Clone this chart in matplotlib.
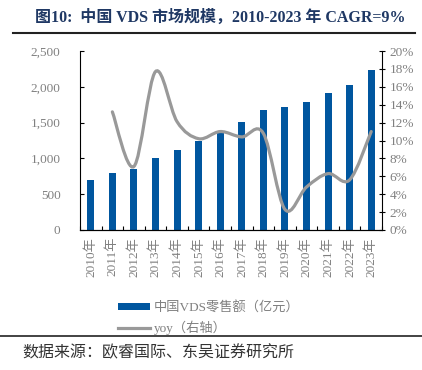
import numpy as np
import matplotlib
matplotlib.use("Agg")
import matplotlib.pyplot as plt
from matplotlib.path import Path
from matplotlib.patches import PathPatch, Patch
from matplotlib.lines import Line2D
from matplotlib.ticker import FuncFormatter, MultipleLocator

years = ['2010年', '2011年', '2012年', '2013年', '2014年', '2015年', '2016年',
         '2017年', '2018年', '2019年', '2020年', '2021年', '2022年', '2023年']
sales = [700, 790, 848, 1001, 1122, 1239, 1350, 1513, 1672, 1714, 1793, 1909, 2021, 2235]
# yoy from 2011 on, in %
yoy = [13.2, 7.1, 17.7, 12.1, 10.2, 11.0, 10.4, 10.8, 2.3, 4.8, 6.3, 5.6, 11.0]

serif = ['Liberation Serif', 'Noto Sans CJK SC']
plt.rcParams['font.family'] = serif
grey_txt = '#808080'
blue = '#00569F'
grey_line = '#999999'

fig = plt.figure(figsize=(4.22, 3.70), dpi=100)
ax = fig.add_axes([80/422, 1-230/370, 302/422, 179/370])
ax2 = ax.twinx()

x = np.arange(len(years))
ax.bar(x, sales, width=0.33, color=blue, zorder=2)
ax.set_xlim(-0.5, len(years) - 0.5)
ax.set_ylim(0, 2500)
ax.yaxis.set_major_locator(MultipleLocator(500))
ax.yaxis.set_major_formatter(FuncFormatter(lambda v, p: f'{int(v):,}'))
ax.set_xticks(x)
ax.set_xticklabels(years, rotation=90, color=grey_txt, fontsize=9.5)
ax.set_xticks(np.arange(len(years) + 1) - 0.5, minor=True)
ax.tick_params(axis='x', which='major', length=0, pad=5)
ax.tick_params(axis='x', which='minor', direction='in', length=3, width=0.8)
ax.tick_params(axis='y', direction='in', length=3, width=0.8, labelcolor=grey_txt, labelsize=9.5, pad=14)
ax.spines['top'].set_visible(False)
ax.spines['right'].set_visible(False)

# smoothed yoy line (bezier through the points)
xs = x[1:].astype(float)
pts = np.column_stack([xs, yoy])
verts = [tuple(pts[0])]
codes = [Path.MOVETO]
n = len(pts)
for i in range(n - 1):
    p0 = pts[i - 1] if i > 0 else pts[i]
    p1 = pts[i]
    p2 = pts[i + 1]
    p3 = pts[i + 2] if i + 2 < n else pts[i + 1]
    c1 = p1 + (p2 - p0) / 6
    c2 = p2 - (p3 - p1) / 6
    verts += [tuple(c1), tuple(c2), tuple(p2)]
    codes += [Path.CURVE4] * 3
ax2.add_patch(PathPatch(Path(verts, codes), facecolor='none', edgecolor=grey_line,
                        lw=2.3, capstyle='round', zorder=3))
ax2.set_ylim(0, 20)
ax2.yaxis.set_major_locator(MultipleLocator(2))
ax2.yaxis.set_major_formatter(FuncFormatter(lambda v, p: f'{int(v)}%'))
ax2.tick_params(axis='y', direction='inout', length=5, width=0.8, labelcolor=grey_txt, labelsize=9.5, pad=3)
ax2.spines['top'].set_visible(False)
ax2.spines['left'].set_visible(False)

# title and rules
fig.text(35/422, 1-18/370, '图10:  中国 VDS 市场规模，2010-2023 年 CAGR=9%', fontsize=11.5,
         fontweight='bold', color='#1F3864', va='center', ha='left')
fig.add_artist(Line2D([13/422, 415/422], [1-33/370, 1-33/370], color='#222222', lw=1.5))
fig.add_artist(Line2D([0/422, 422/422], [1-336/370, 1-336/370], color='#222222', lw=1.2))
fig.text(22/422, 1-353/370, '数据来源：欧睿国际、东吴证券研究所', fontsize=11.5, color='#333333', va='center')

handles = [Patch(facecolor=blue, edgecolor='none'),
           Line2D([], [], color=grey_line, lw=2.3)]
fig.legend(handles, ['中国VDS零售额（亿元）', 'yoy（右轴）'], loc='upper left',
           bbox_to_anchor=(109/422, 1-292/370), frameon=False, fontsize=9.5,
           labelcolor=grey_txt, handlelength=2.4, handleheight=0.35, handletextpad=0.3,
           labelspacing=0.45, borderpad=0.2)

fig.savefig('out.png', dpi=100)
